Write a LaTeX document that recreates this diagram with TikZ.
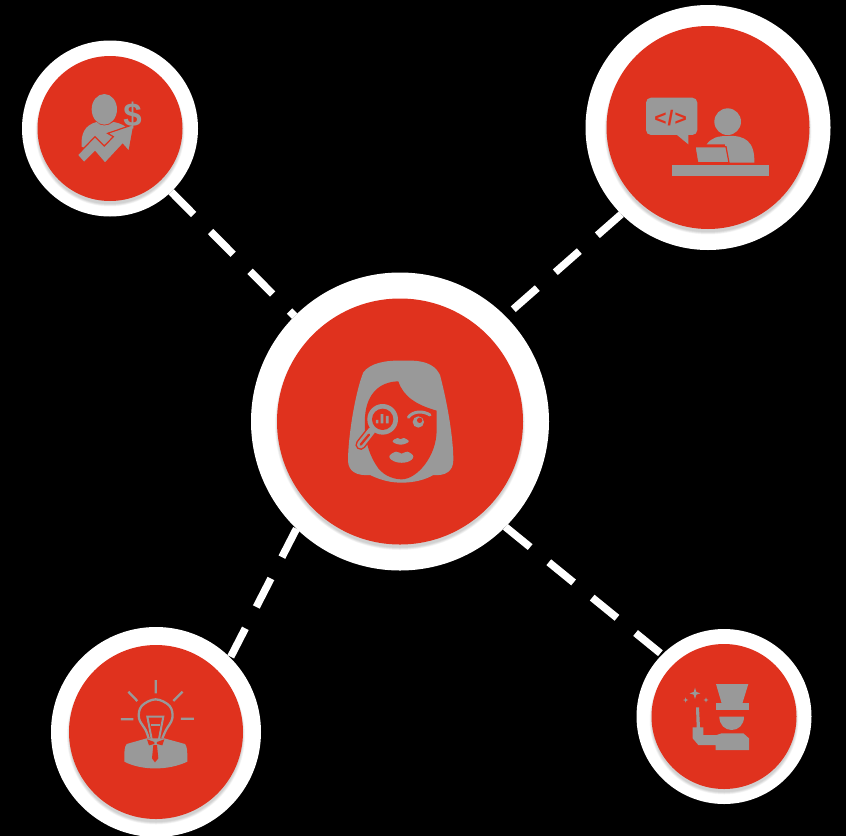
\documentclass[tikz,border=0pt]{standalone}
\usepackage{fontspec}
\setmainfont{Liberation Sans}
\definecolor{corered}{HTML}{E0321E}
\definecolor{icongray}{HTML}{999999}
\tikzset{
ringnode/.style={circle,fill=white,inner sep=0pt,outer sep=0pt},
corenode/.style={circle,fill=corered,inner sep=0pt,outer sep=0pt},
shadelayer/.style={circle,fill=black,opacity=.03,inner sep=0pt},
dashline/.style={white,line width=7.5pt,dash pattern=on 32pt off 24pt},
iconfill/.style={fill=icongray},
iconline/.style={draw=icongray,line width=2.3pt},
iconscope/.style={x=.3333pt,y=-.3333pt}
}
\begin{document}
\begin{tikzpicture}[x=1pt,y=-1pt]
\useasboundingbox (0,0) rectangle (846,836);
\clip (0,0) rectangle (846,836);
\fill[black] (0,0) rectangle (846,836);
% circles
\foreach \name/\xpos/\ypos/\ringsize/\coresize in {hub/400/421.5/298/246, tl/110/128.5/176/145, tr/708/127.5/245/203, bl/156/732/210/174, br/724/716.5/175/145}{
\node[ringnode,minimum size=\ringsize] (\name) at (\xpos,\ypos) {};
\foreach \k in {1,...,6}
    \node[shadelayer,minimum size={\coresize-2+\k}] at (\xpos,\ypos+3.5) {};
\node[corenode,minimum size=\coresize] (\name core) at (\xpos,\ypos) {};
}
% connectors
\draw[dashline] (tl.314) -- (hub.135);
\draw[dashline] (tr.225) -- (hub.45);
\draw[dashline] (hub.226) -- (bl.45);
\draw[dashline] (hub.315) -- (br.135);
% hub icon
\begin{scope}[shift={(320,340)},iconscope]
\fill[iconfill] (250,62) .. controls (195,60) and (150,70) .. (130,97) .. controls (108,150) and (85,280) .. (84,360) .. controls (84,395) and (110,408) .. (150,405) .. controls (185,422) and (215,428) .. (245,428) .. controls (280,428) and (315,420) .. (340,405) .. controls (375,408) and (400,395) .. (400,360) .. controls (400,300) and (385,200) .. (360,105) .. controls (350,85) and (330,58) .. (250,62) -- cycle;
\fill[corered] (235,124) .. controls (180,125) and (140,160) .. (135,230) .. controls (130,300) and (150,350) .. (175,385) .. controls (195,410) and (225,418) .. (245,418) .. controls (290,418) and (350,350) .. (350,270) -- (350,212) .. controls (290,195) and (250,170) .. (235,124) -- cycle;
\draw[corered,line width=10.5pt,line cap=round] (155,272) -- (122,314);
\draw[icongray,line width=7.5pt,line cap=round] (155,272) -- (122,314);
\draw[corered,line width=2.3pt,line cap=round] (147,284) -- (122,314);
\fill[icongray] (188,238) circle (46);
\fill[corered] (188,238) circle (32);
\fill[icongray] (168,240) rectangle (175,250) (182,222) rectangle (190,250) (198,228) rectangle (206,250);
\draw[icongray,line width=3pt,line cap=round] (265,232) .. controls (280,212) and (310,212) .. (330,225);
\fill[icongray] (295,246) circle (17);
\fill[corered] (299,241) circle (8);
\fill[iconfill] plot[smooth cycle,tension=.7] coordinates {(218,305) (232,294) (241,298) (252,294) (266,305) (242,314)};
\fill[iconfill] plot[smooth cycle,tension=.7] coordinates {(208,350) (228,335) (245,341) (262,335) (280,350) (262,366) (228,366)};
\end{scope}
% top left icon
\begin{scope}[shift={(60,80)},iconscope]
\fill[iconfill] (133,88) ellipse (38 and 46);
\fill[iconfill] (65,200) .. controls (62,160) and (75,135) .. (110,126) .. controls (120,140) and (145,140) .. (160,126) .. controls (185,130) and (200,140) .. (205,150) -- (100,215) -- cycle;
\fill[iconfill,draw=corered,line width=1.2pt,line join=miter] (52,225) -- (105,170) -- (133,198) -- (160,170) -- (143,160) -- (222,133) -- (207,215) -- (188,193) -- (135,250) -- (105,215) -- (72,248) -- cycle;
\node[text=icongray,font=\bfseries\fontsize{33}{33}\selectfont,inner sep=0pt] (dollar) at (218,105) {\$};
\end{scope}
% top right icon
\begin{scope}[shift={(630,80)},iconscope]
\fill[iconfill,rounded corners=5pt] (48,53) rectangle (202,165);
\fill[iconfill] (135,160) -- (175,193) -- (175,160) -- cycle;
\node[text=corered,font=\bfseries\fontsize{21}{21}\selectfont,inner sep=0pt] (codetag) at (122,113) {<\kern1pt/\kern1pt>};
\fill[iconfill] (293,125) circle (40);
\fill[iconfill] (230,193) .. controls (245,172) and (265,168) .. (293,168) .. controls (345,165) and (375,185) .. (373,248) -- (290,248) -- (285,193) -- cycle;
\fill[iconfill,draw=corered,line width=1.2pt] (195,200) -- (288,200) -- (297,248) -- (203,248) -- cycle;
\fill[iconfill] (125,255) rectangle (418,287);
\end{scope}
% bottom left icon
\begin{scope}[shift={(105,670)},iconscope]
\draw[iconline] (152,30) -- (152,70) (70,65) -- (97,93) (233,65) -- (205,93) (48,148) -- (85,148) (228,146) -- (267,146);
\fill[iconfill] (65,222) -- (125,205) -- (178,205) -- (240,222) .. controls (247,232) and (247,240) .. (247,275) .. controls (190,302) and (110,302) .. (58,275) .. controls (58,240) and (58,232) .. (65,222) -- cycle;
\fill[corered] plot[smooth cycle,tension=.6] coordinates {(152,90) (110,108) (102,145) (122,180) (133,200) (170,200) (183,180) (202,145) (192,108)};
\draw[iconline] plot[smooth,tension=.6] coordinates {(131,205) (122,180) (102,145) (110,108) (152,88) (194,108) (202,145) (183,180) (172,205)};
\draw[icongray,line width=2pt,line join=miter] (140,207) -- (127,140) -- (175,140) -- (162,207);
\draw[icongray,line width=1.5pt] (137,165) -- (165,165);
\fill[corered] (126,208) -- (148,216) -- (148,222) -- (132,226) -- cycle (178,208) -- (156,216) -- (156,222) -- (172,226) -- cycle;
\fill[corered] (145,225) -- (156,225) -- (160,265) -- (150,277) -- (141,265) -- cycle;
\end{scope}
% bottom right icon
\begin{scope}[shift={(670,670)},iconscope]
\fill[iconfill] (138,42) -- (235,42) -- (217,100) -- (155,100) -- cycle;
\fill[iconfill] (138,100) rectangle (237,120);
\fill[iconfill] (148,140) -- (222,140) .. controls (222,165) and (205,180) .. (185,180) .. controls (165,180) and (148,165) .. (148,140) -- cycle;
\fill[iconfill] (78,112) -- (87,112) -- (90,172) -- (100,172) -- (100,195) -- (140,195) -- (155,190) -- (220,190) -- (237,205) -- (237,240) -- (137,240) -- (137,225) -- (85,225) -- (68,205) -- (68,172) -- (80,172) -- cycle;
\fill[iconfill] (75,53) -- (79,66) -- (91,70) -- (79,74) -- (75,87) -- (71,74) -- (59,70) -- (71,66) -- cycle;
\fill[iconfill] (47,82) -- (49,88) -- (55,90) -- (49,92) -- (47,98) -- (45,92) -- (39,90) -- (45,88) -- cycle;
\fill[iconfill] (108,82) -- (110,88) -- (116,90) -- (110,92) -- (108,98) -- (106,92) -- (100,90) -- (106,88) -- cycle;
\end{scope}
\end{tikzpicture}
\end{document}
